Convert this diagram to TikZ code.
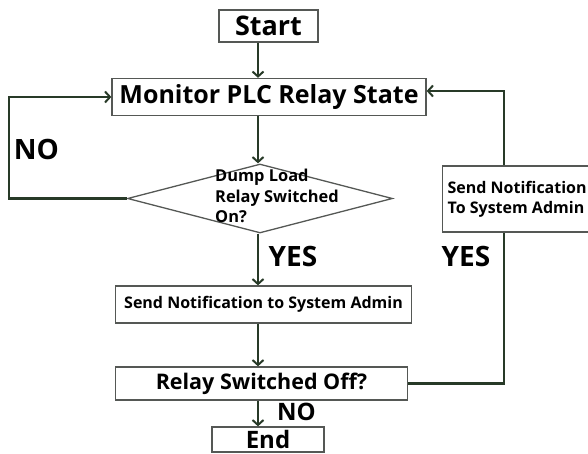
\documentclass[tikz,border=0pt]{standalone}
\usepackage{fontspec}
\setmainfont{Open Sans}
\usetikzlibrary{arrows.meta,shapes.geometric,positioning}
\definecolor{FlowLine}{RGB}{40,58,40}
\definecolor{BoxEdge}{RGB}{85,88,85}

\begin{document}
\begin{tikzpicture}[x=1pt,y=-1pt,
    box/.style={draw=BoxEdge,line width=1.3pt,inner sep=0pt,font=\bfseries},
    flow/.style={FlowLine,line width=2.6pt,-{Straight Barb[length=5pt,width=11pt,line width=2pt]}},
    link/.style={FlowLine,line width=2.6pt},
    lbl/.style={font=\bfseries\fontsize{28}{32}\selectfont}]
  \useasboundingbox (0,0) rectangle (588,454);
  % vertical spine of the main column
  \coordinate (spine) at (258,0);
  \coordinate (loopL) at (9,150);
  \coordinate (loopR) at (504,300);

  \node[box,minimum width=99,minimum height=32,font=\bfseries\fontsize{27}{30}\selectfont] (start) at (268.5,26) {Start};
  \node[box,minimum width=314,minimum height=37,font=\bfseries\fontsize{25}{28}\selectfont] (monitor) at (269,97) {Monitor PLC Relay State};
  \node[draw=BoxEdge,line width=1.3pt,diamond,minimum width=265,minimum height=69,inner sep=0pt] (dump) at (260,198.5) {};
  \node[font=\bfseries\fontsize{16.4}{20.5}\selectfont,align=left,anchor=north west,inner sep=0pt] (dumptxt) at (215,169) {Dump Load\\Relay Switched\\On?};
  \node[box,minimum width=296,minimum height=37,font=\bfseries\fontsize{16}{19}\selectfont] (notify) at (263.5,304.5) {Send Notification to System Admin};
  \node[box,minimum width=292,minimum height=33,font=\bfseries\fontsize{21.5}{24}\selectfont] (relay) at (261.5,383.5) {Relay Switched Off?};
  \node[box,minimum width=112,minimum height=25,font=\bfseries\fontsize{24}{26}\selectfont] (endbox) at (268,439.5) {End};
  \node[box,anchor=west,minimum height=66,align=left,inner xsep=5pt,font=\bfseries\fontsize{16}{20}\selectfont] (side) at (442,199) {Send Notification\\To System Admin};

  % main column
  \draw[flow] (start.south -| spine) -- (monitor.north -| spine);
  \draw[flow] (monitor.south -| spine) -- (dump.north -| spine);
  \draw[flow] (dump.south -| spine) -- (notify.north -| spine);
  \draw[flow] (notify.south -| spine) -- (relay.north -| spine);
  \draw[flow] (relay.south -| spine) -- (endbox.north -| spine);

  % loops back to the monitor box
  \draw[flow] (dump.west) -| (loopL) |- (monitor.west);
  \draw[link] (relay.east) -| (loopR) -- (loopR |- side.south);
  \draw[flow] (loopR |- side.north) |- ([yshift=6pt]monitor.east);

  \node[lbl] (noL) at (36.5,149) {NO};
  \node[lbl] (yesL) at (293,256) {YES};
  \node[lbl] (yesR) at (466,256) {YES};
  \node[lbl,font=\bfseries\fontsize{24}{28}\selectfont] (noB) at (296.5,412) {NO};
\end{tikzpicture}
\end{document}
